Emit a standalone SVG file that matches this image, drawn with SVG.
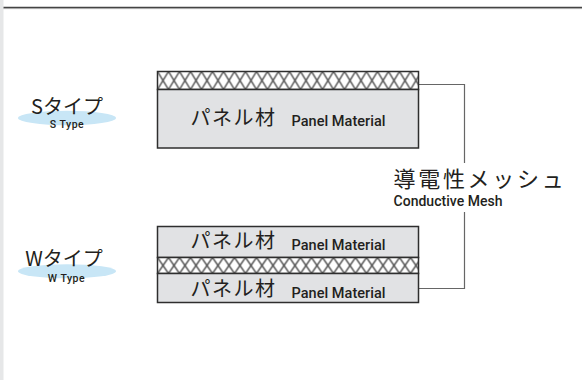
<svg xmlns="http://www.w3.org/2000/svg" width="582" height="380" viewBox="0 0 582 380">
<style>
.panel{fill:#e1e2e4;stroke:#2e2e2e;stroke-width:1.5}
.mesh{stroke:#2e2e2e;stroke-width:1.5}
.jp{font-family:"Noto Sans CJK JP","Liberation Sans",sans-serif;fill:#231f20}
.en{font-family:Roboto,"Liberation Sans",Arial,sans-serif;font-weight:500;fill:#231f20}
.conn{fill:none;stroke:#666;stroke-width:1.2}
.type{fill:#c8e6f6}
</style>
<defs>
<pattern id="meshS" patternUnits="userSpaceOnUse" x="157.5" y="71.5" width="11" height="18">
<rect width="11" height="18" fill="#fff"/>
<path d="M0,0 L11,18 M11,0 L0,18" stroke="#4a4a4a" stroke-width="1.4" fill="none"/>
</pattern>
<pattern id="meshW" patternUnits="userSpaceOnUse" x="157.5" y="257.5" width="11" height="16">
<rect width="11" height="16" fill="#fff"/>
<path d="M0,0 L11,16 M11,0 L0,16" stroke="#4a4a4a" stroke-width="1.4" fill="none"/>
</pattern>
</defs>
<rect width="582" height="380" fill="#fff"/>
<rect x="0" y="0" width="3.5" height="380" fill="#e6e7e8"/>
<line x1="3.5" y1="7.5" x2="582" y2="7.5" stroke="#444" stroke-width="1.3"/>
<line x1="3.5" y1="8.6" x2="582" y2="8.6" stroke="#999" stroke-width="0.8"/>

<g id="connectors">
<path class="conn" d="M419,84.5 H464.5 V163"/>
<path class="conn" d="M419,288.5 H464.5 V212"/>
</g>

<g id="s-type-label">
<ellipse class="type" cx="67" cy="118" rx="49" ry="7.2"/>
<text class="jp" x="67" y="113.5" font-size="20" text-anchor="middle">Sタイプ</text>
<text class="en" x="67" y="128" font-size="10.5" text-anchor="middle" letter-spacing="0.5">S Type</text>
</g>

<g id="s-panel">
<rect x="157.5" y="71.5" width="261" height="18" fill="url(#meshS)" class="mesh"/>
<rect class="panel" x="157.5" y="89.5" width="261" height="58.5"/>
<text class="jp" x="190.5" y="125" font-size="20" letter-spacing="1.5">パネル材</text>
<text class="en" x="291.5" y="125.5" font-size="14.5" textLength="94">Panel Material</text>
</g>

<g id="w-type-label">
<ellipse class="type" cx="67" cy="271.3" rx="49" ry="7"/>
<text class="jp" x="64" y="266" font-size="20" text-anchor="middle">Wタイプ</text>
<text class="en" x="66.5" y="281.5" font-size="10.5" text-anchor="middle" letter-spacing="0.5">W Type</text>
</g>

<g id="w-panel">
<rect class="panel" x="157.5" y="226.5" width="261" height="31"/>
<rect x="157.5" y="257.5" width="261" height="16" fill="url(#meshW)" class="mesh"/>
<rect class="panel" x="157.5" y="273.5" width="261" height="29"/>
<text class="jp" x="190.5" y="247.5" font-size="20" letter-spacing="1.5">パネル材</text>
<text class="en" x="291.5" y="249.5" font-size="14.5" textLength="94">Panel Material</text>
<text class="jp" x="190.5" y="296" font-size="20" letter-spacing="1.5">パネル材</text>
<text class="en" x="291.5" y="298" font-size="14.5" textLength="94">Panel Material</text>
</g>

<g id="mesh-label">
<text class="jp" x="393.5" y="187" font-size="22" letter-spacing="2.7">導電性メッシュ</text>
<text class="en" x="393.5" y="206" font-size="14" textLength="109">Conductive Mesh</text>
</g>
</svg>
